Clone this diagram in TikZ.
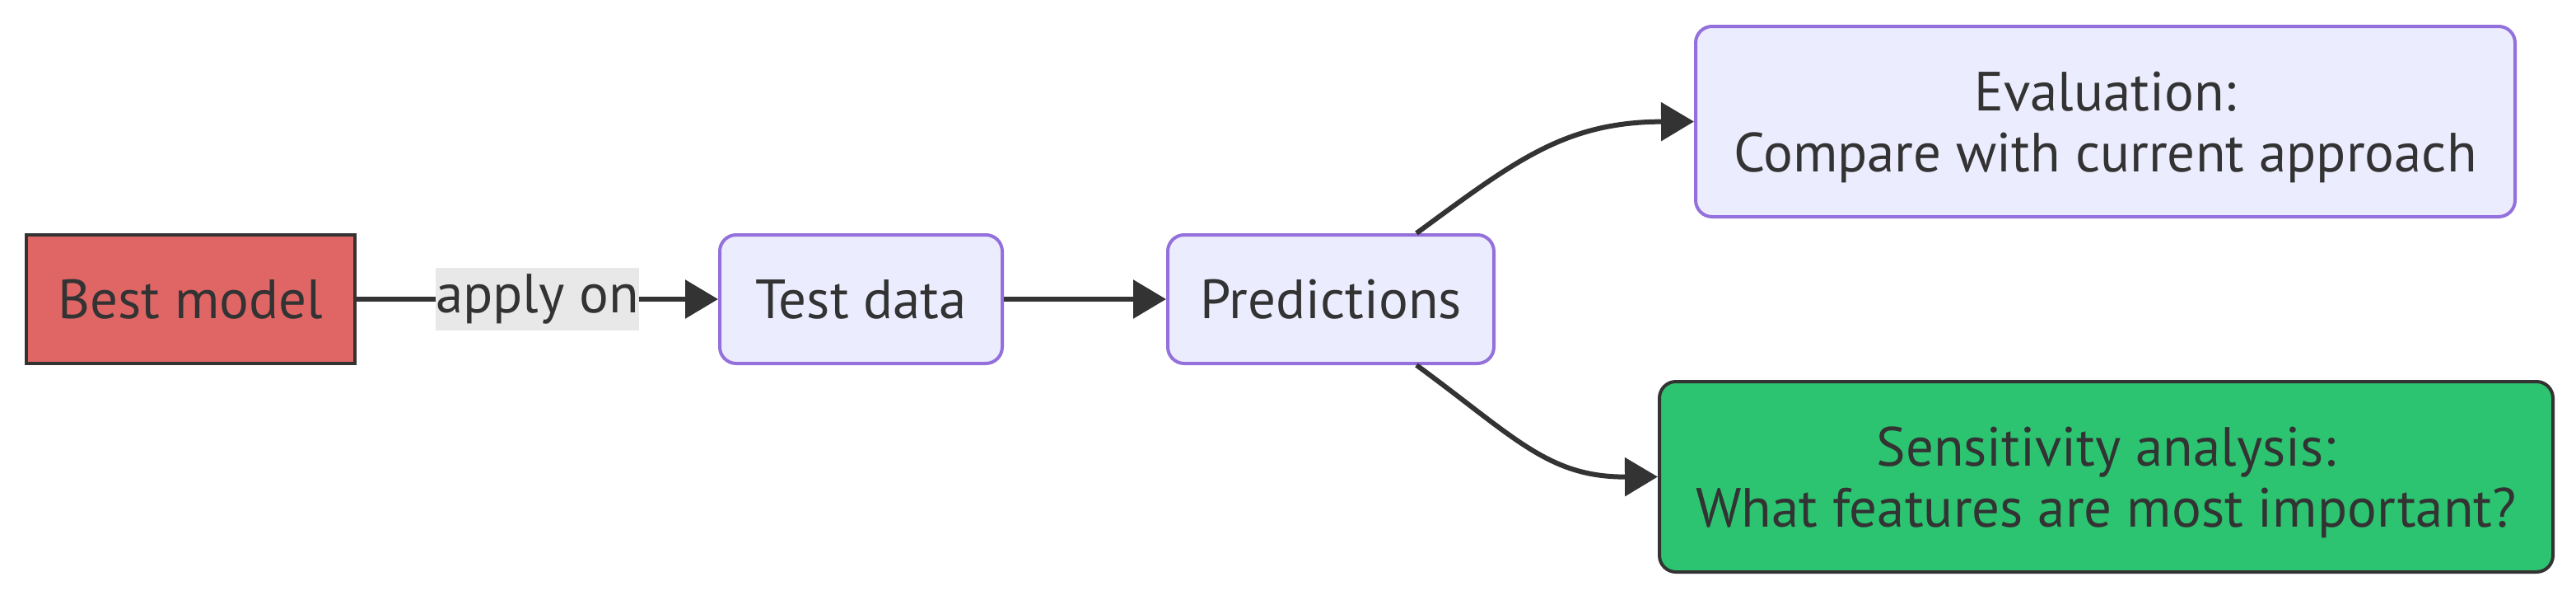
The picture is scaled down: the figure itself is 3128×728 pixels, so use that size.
\documentclass[tikz,border=0pt]{standalone}
\usepackage{fontspec}
\setmainfont{PT Sans}
\usetikzlibrary{calc,arrows.meta}
\definecolor{txt}{HTML}{333333}
\definecolor{boxfill}{HTML}{ECECFF}
\definecolor{boxdraw}{HTML}{9370DB}
\definecolor{redfill}{HTML}{E06666}
\definecolor{greenfill}{HTML}{2CC470}
\definecolor{lblbg}{HTML}{E8E8E8}
\newcommand{\firstline}{\rule{0pt}{31pt}}
\tikzset{
  base/.style={font=\fontsize{33.5}{37}\selectfont, text=txt, align=center, inner sep=0pt},
  purplebox/.style={base, fill=boxfill, draw=boxdraw, line width=2pt, rounded corners=10pt},
  redbox/.style={base, fill=redfill, draw=txt, line width=2pt},
  greenbox/.style={base, fill=greenfill, draw=txt, line width=2pt, rounded corners=10pt},
  conn/.style={draw=txt, line width=3pt, -{Triangle[length=20pt,width=23pt]}},
  lbl/.style={base, fill=lblbg, minimum width=121.5pt, minimum height=38pt}
}
\begin{document}
\begin{tikzpicture}[x=0.5pt,y=-0.5pt]
\useasboundingbox (0,0) rectangle (3128,728);
\fill[white] (0,0) rectangle (3128,728);
\node[redbox, minimum width=199.5pt, minimum height=78pt] (best) at (231.5,363) {Best model};
\node[purplebox, minimum width=171.5pt, minimum height=78pt] (test) at (1045.5,363) {Test data};
\node[purplebox, minimum width=198pt, minimum height=78pt] (pred) at (1616,363) {Predictions};
\node[purplebox, minimum width=497.5pt, minimum height=115.5pt] (eval) at (2556.5,147.5) {\firstline Evaluation:\\Compare with current approach};
\node[greenbox, minimum width=542.5pt, minimum height=115.5pt] (sens) at (2557.5,578.5) {\firstline Sensitivity analysis:\\What features are most important?};
\draw[conn] (best.east) -- node[lbl] (lab) {apply on} (test.west);
\draw[conn] (test.east) -- (pred.west);
\coordinate (pu) at ($(pred.north)+(104,0)$);
\coordinate (pd) at ($(pred.south)+(104,0)$);
\draw[conn] (pu) .. controls (1840,195) and (1900,148) .. (eval.west);
\draw[conn] (pd) .. controls (1840,531) and (1880,579) .. (sens.west);
\end{tikzpicture}
\end{document}
